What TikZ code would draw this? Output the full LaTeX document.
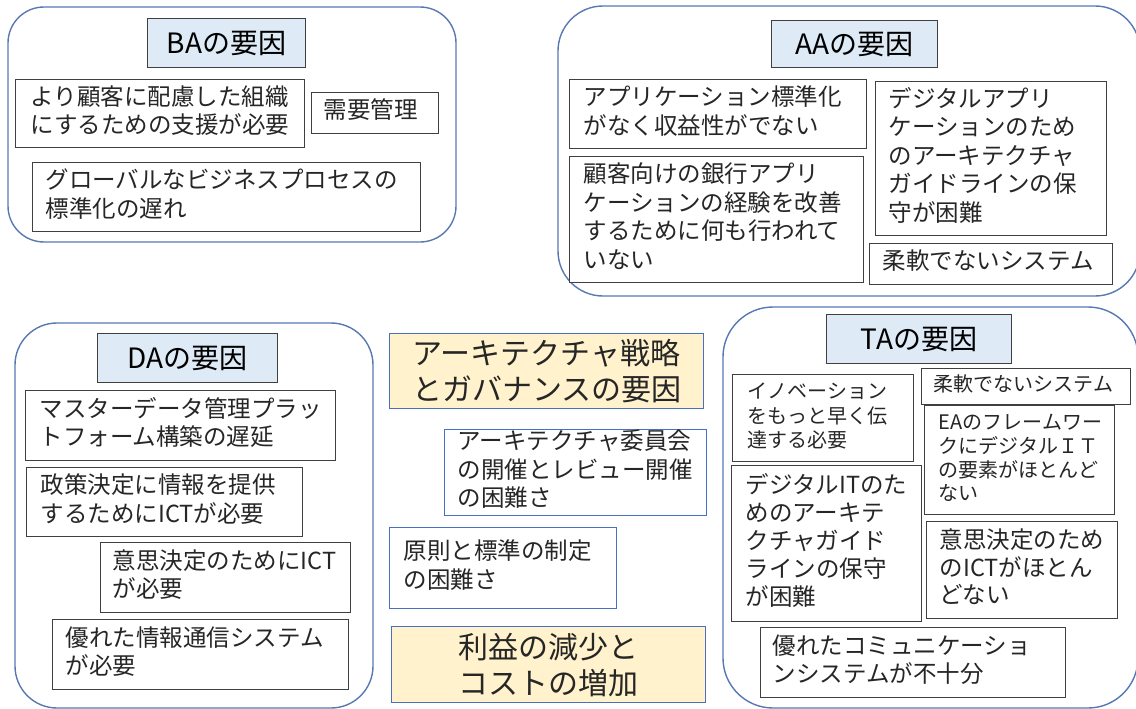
\documentclass[tikz,border=0pt]{standalone}
\usepackage{fontspec}
\setmainfont{Noto Sans CJK JP}
\definecolor{grpblue}{RGB}{88,120,178}
\definecolor{boxgray}{RGB}{64,64,64}
\definecolor{midblue}{RGB}{72,112,190}
\definecolor{ttlfill}{RGB}{222,235,247}
\definecolor{orfill}{RGB}{255,242,204}
\definecolor{txt}{RGB}{38,38,38}
\tikzset{
  grp/.style={draw=grpblue, line width=1.4pt},
  tbox/.style={draw=boxgray, line width=1.4pt, fill=white, align=left, text=txt,
    font=\fontsize{23.5pt}{28.5pt}\selectfont},
  smalltxt/.style={font=\fontsize{20pt}{24.5pt}\selectfont},
  ttl/.style={draw=boxgray, line width=1.4pt, fill=ttlfill, align=center, text=black,
    font=\fontsize{28pt}{34pt}\selectfont},
  bbox/.style={tbox, draw=midblue},
  obox/.style={draw=midblue, line width=1.4pt, fill=orfill, align=center, text=txt,
    font=\fontsize{30pt}{36pt}\selectfont}
}
% left-aligned box: #1 style, #2 name, #3 x1, #4 y1, #5 x2, #6 y2, #7 left inset, #8 text
\newcommand\placebox[8]{%
  \pgfmathsetlengthmacro\tbw{#5-#3}%
  \pgfmathsetlengthmacro\tbh{#6-#4}%
  \node[#1, anchor=north west, inner xsep=0pt, inner ysep=0pt,
        text width=\tbw, minimum height=\tbh] (#2) at (#3,#4)
        {\hspace*{#7pt}\begin{tabular}{@{}l@{}}#8\end{tabular}};%
}
% centred box: #1 style, #2 name, #3 x1, #4 y1, #5 x2, #6 y2, #7 text
\newcommand\placecbox[7]{%
  \pgfmathsetlengthmacro\tbw{#5-#3}%
  \pgfmathsetlengthmacro\tbh{#6-#4}%
  \node[#1, anchor=north west, inner xsep=0pt, inner ysep=0pt,
        text width=\tbw, minimum height=\tbh] (#2) at (#3,#4) {#7};%
}
\begin{document}
\begin{tikzpicture}[x=1pt,y=-1pt]
\useasboundingbox (0,0) rectangle (1136,709);

% group frames
\draw[grp, rounded corners=36pt] (8,7) rectangle (456,242);
\draw[grp, rounded corners=45pt] (558,6) rectangle (1140,296);
\draw[grp, rounded corners=42pt] (15,323) rectangle (373,708);
\draw[grp, rounded corners=50pt] (723,307) rectangle (1138,708);

% BA
\placecbox{ttl}{baT}{147}{18}{305}{67}{BAの要因}
\placebox{tbox}{ba1}{15}{79}{304}{147}{15}{より顧客に配慮した組織\\にするための支援が必要}
\placebox{tbox}{ba2}{311}{92}{438}{133}{12}{需要管理}
\placebox{tbox}{ba3}{32}{162}{420}{231}{13}{グローバルなビジネスプロセスの\\標準化の遅れ}

% AA
\placecbox{ttl}{aaT}{771}{20}{937}{67}{AAの要因}
\placebox{tbox}{aa1}{569}{79}{866}{148}{14}{アプリケーション標準化\\がなく収益性がでない}
\placebox{tbox}{aa2}{569}{156}{863}{282}{14}{顧客向けの銀行アプリ\\ケーションの経験を改善\\するために何も行われて\\いない}
\placebox{tbox}{aa3}{875}{81}{1106}{235}{13}{デジタルアプリ\\ケーションのため\\のアーキテクチャ\\ガイドラインの保\\守が困難}
\placebox{tbox}{aa4}{869}{243}{1112}{284}{13}{柔軟でないシステム}

% DA
\placecbox{ttl}{daT}{97}{333}{277}{382}{DAの要因}
\placebox{tbox}{da1}{25}{390}{335}{460}{14}{マスターデータ管理プラッ\\トフォーム構築の遅延}
\placebox{tbox}{da2}{26}{467}{302}{536}{14}{政策決定に情報を提供\\するためにICTが必要}
\placebox{tbox}{da3}{100}{542}{350}{612}{12}{意思決定のためにICT\\が必要}
\placebox{tbox}{da4}{52}{619}{348}{689}{13}{優れた情報通信システム\\が必要}

% middle
\placecbox{obox}{m1}{389}{333}{703}{408}{アーキテクチャ戦略\\とガバナンスの要因}
\placebox{bbox}{m2}{444}{429}{706}{511}{13}{アーキテクチャ委員会\\の開催とレビュー開催\\の困難さ}
\placebox{bbox}{m3}{389}{527}{616}{608}{14}{原則と標準の制定\\の困難さ}
\placecbox{obox}{m4}{391}{626}{705}{702}{利益の減少と\\コストの増加}

% TA
\placecbox{ttl}{taT}{826}{314}{1011}{363}{TAの要因}
\placebox{tbox,smalltxt}{ta1}{732}{374}{913}{461}{15}{イノベーション\\をもっと早く伝\\達する必要}
\placebox{tbox,smalltxt}{ta2}{921}{368}{1130}{404}{12}{柔軟でないシステム}
\placebox{tbox,font=\fontsize{20pt}{23.5pt}\selectfont}{ta3}{924}{405}{1114}{514}{14}{EAのフレームワー\\クにデジタルＩＴ\\の要素がほとんど\\ない}
\placebox{tbox,font=\fontsize{23.5pt}{28pt}\selectfont}{ta4}{731}{465}{921}{621}{14}{デジタルITのた\\めのアーキテ\\クチャガイド\\ラインの保守\\が困難}
\placebox{tbox,font=\fontsize{23.5pt}{27pt}\selectfont}{ta5}{926}{521}{1117}{618}{13}{意思決定のため\\のICTがほとん\\どない}
\placebox{tbox}{ta6}{760}{627}{1065}{697}{12}{優れたコミュニケーショ\\ンシステムが不十分}
\end{tikzpicture}
\end{document}
